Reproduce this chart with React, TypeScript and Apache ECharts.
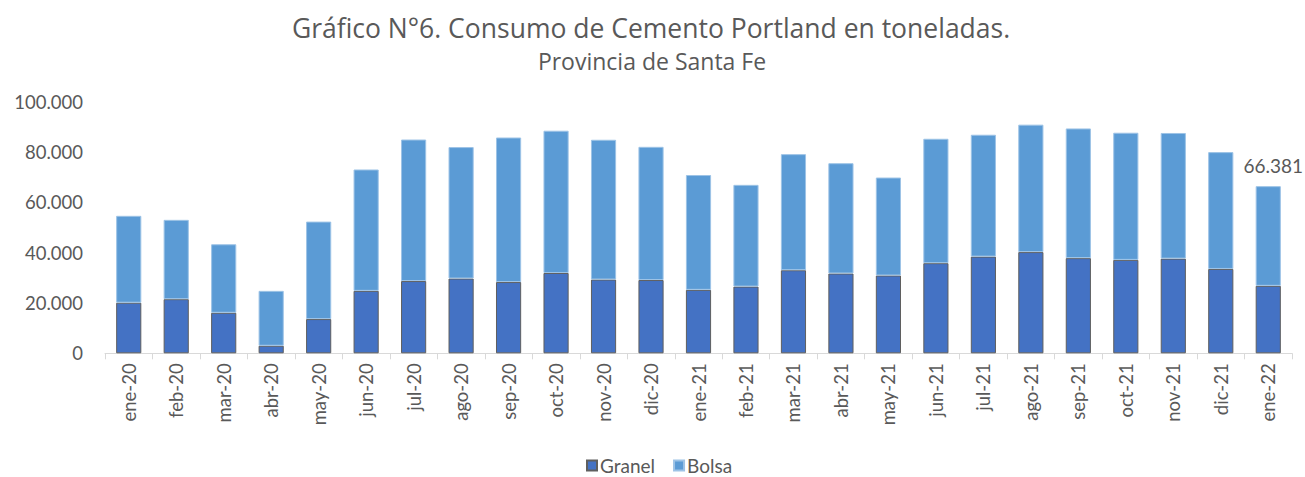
import React, { useEffect, useRef } from "react";
import * as echarts from "echarts";

const categories = [
  "ene-20", "feb-20", "mar-20", "abr-20", "may-20", "jun-20", "jul-20", "ago-20", "sep-20",
  "oct-20", "nov-20", "dic-20", "ene-21", "feb-21", "mar-21", "abr-21", "may-21", "jun-21",
  "jul-21", "ago-21", "sep-21", "oct-21", "nov-21", "dic-21", "ene-22",
];
const totals = [
  54600, 53000, 43300, 24800, 52300, 73000, 84900, 81900, 85700,
  88400, 84800, 82000, 70800, 66900, 79100, 75500, 69800, 85200,
  86800, 90800, 89300, 87600, 87500, 79900, 66381,
];
const granel = [
  20100, 21500, 16100, 3000, 13600, 24800, 28700, 29700, 28300,
  31900, 29300, 29100, 25200, 26500, 33000, 31700, 30900, 35800,
  38400, 40200, 37800, 37100, 37600, 33500, 26800,
];
const bolsa = totals.map((t, i) => t - granel[i]);
const yTicks = [0, 20000, 40000, 60000, 80000, 100000];

const FONT = "Lato";
const TFONT = "Open Sans";
const fmt = (v: number) => Math.round(v).toString().replace(/\B(?=(\d{3})+(?!\d))/g, ".");

export default function App() {
  const ref = useRef<HTMLDivElement>(null);
  useEffect(() => {
    if (!ref.current) return;
    const chart = echarts.init(ref.current, null, { renderer: "svg" });
    chart.setOption({
      animation: false,
      backgroundColor: "#ffffff",
      textStyle: { fontFamily: FONT },
      title: [
        {
          text: "Gráfico N°6. Consumo de Cemento Portland en toneladas.",
          left: 646,
          top: 9,
          textAlign: "center",
          textStyle: { fontFamily: TFONT, fontSize: 26.5, fontWeight: "normal", color: "#595959" },
        },
        {
          text: "Provincia de Santa Fe",
          left: 647,
          top: 44,
          textAlign: "center",
          textStyle: { fontFamily: TFONT, fontSize: 23, fontWeight: "normal", color: "#595959" },
        },
      ],
      legend: {
        data: ["Granel", "Bolsa"],
        bottom: -3,
        left: 581,
        itemWidth: 10,
        itemHeight: 10,
        itemGap: 18,
        icon: "rect",
        textStyle: { fontFamily: FONT, fontSize: 19, color: "#595959", padding: [0, 0, 0, -2] },
      },
      grid: { left: 105, right: 13, top: 101.5, bottom: 123.7, containLabel: false },
      xAxis: {
        type: "category",
        data: categories,
        axisLine: { lineStyle: { color: "#D9D9D9", width: 1 } },
        axisTick: { show: true, length: 6, lineStyle: { color: "#D9D9D9" } },
        axisLabel: {
          rotate: 90,
          margin: 10,
          fontFamily: FONT,
          fontSize: 18.5,
          color: "#595959",
        },
      },
      yAxis: {
        type: "value",
        min: yTicks[0],
        max: yTicks[yTicks.length - 1],
        interval: 20000,
        splitLine: { show: false },
        axisLine: { show: false },
        axisTick: { show: false },
        axisLabel: {
          fontFamily: FONT,
          fontSize: 18.5,
          color: "#595959",
          margin: 22,
          formatter: (v: number) => fmt(v),
        },
      },
      series: [
        {
          name: "Granel",
          type: "bar",
          stack: "total",
          data: granel,
          barWidth: "53%",
          itemStyle: { color: "#4472C4", borderColor: "#5f5f5f", borderWidth: 1 },
        },
        {
          name: "Bolsa",
          type: "bar",
          stack: "total",
          data: bolsa.map((v, i) =>
            i === bolsa.length - 1
              ? {
                  value: v,
                  label: {
                    show: true,
                    position: "top",
                    distance: 11,
                    offset: [5, 0],
                    fontFamily: FONT,
                    fontSize: 19,
                    color: "#595959",
                    formatter: () => fmt(totals[i]),
                  },
                }
              : v
          ),
          itemStyle: { color: "#5B9BD5", borderColor: "#9DC3E6", borderWidth: 1 },
        },
      ],
    });
    return () => chart.dispose();
  }, []);
  return (
    <div
      ref={ref}
      style={{ position: "absolute", left: 0, top: 0, width: 1305, height: 477 }}
    />
  );
}
